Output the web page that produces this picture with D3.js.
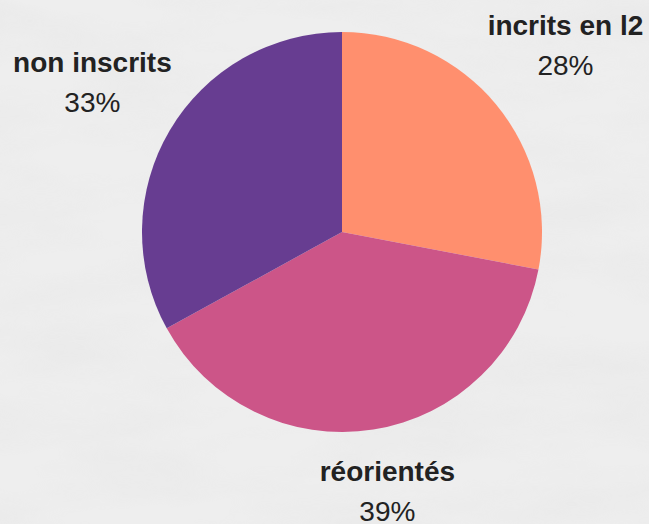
<!DOCTYPE html>
<html>
<head>
<meta charset="utf-8">
<script src="https://cdn.jsdelivr.net/npm/d3@7"></script>
<style>
  body { margin: 0; background: #eeeeee; }
  svg { display: block; }
</style>
</head>
<body>
<script>
var categories = ["incrits en l2", "réorientés", "non inscrits"];
var values = [28, 39, 33];
var colors = ["#ff8f6e", "#cc5588", "#673d91"];

var w = 649;
var h = 524;
var cx = 342;
var cy = 232;
var radius = 200;
var labelRadius = 290;

var svg = d3.select("body")
            .append("svg")
            .attr("width", w)
            .attr("height", h);

// faint marble texture for the background
var defs = svg.append("defs");
var f = defs.append("filter").attr("id", "marble")
  .attr("x", 0).attr("y", 0).attr("width", "100%").attr("height", "100%");
f.append("feTurbulence")
  .attr("type", "fractalNoise")
  .attr("baseFrequency", "0.006 0.02")
  .attr("numOctaves", 4)
  .attr("seed", 7);
f.append("feColorMatrix")
  .attr("type", "matrix")
  .attr("values", "0 0 0 0 0.75  0 0 0 0 0.75  0 0 0 0 0.75  0 0 0 -1.6 1.05");

svg.append("rect")
  .attr("width", w).attr("height", h)
  .attr("fill", "#eeeeee");
svg.append("rect")
  .attr("width", w).attr("height", h)
  .attr("filter", "url(#marble)")
  .attr("opacity", 0.35);

var data = categories.map(function(c, i) {
  return {name: c, value: values[i]};
});

var pie = d3.pie()
  .value(function(d) { return d.value; })
  .sort(null);

var arc = d3.arc().innerRadius(0).outerRadius(radius);
var labelArc = d3.arc().innerRadius(labelRadius).outerRadius(labelRadius);

var color = d3.scaleOrdinal().domain(categories).range(colors);

var g = svg.append("g")
  .attr("transform", "translate(" + cx + "," + cy + ")");

var arcs = pie(data);

g.selectAll("path")
  .data(arcs)
  .enter()
  .append("path")
  .attr("d", arc)
  .attr("fill", function(d) { return color(d.data.name); });

var total = d3.sum(values);
var fontSize = 28;

var labels = svg.selectAll(".label")
  .data(arcs)
  .enter()
  .append("g")
  .attr("class", "label")
  .attr("transform", function(d) {
    var p = labelArc.centroid(d);
    var x = cx + p[0];
    var y = cy + p[1];
    // keep the block inside the picture
    x = Math.max(89, Math.min(w - 83, x));
    y = Math.max(47, Math.min(h - 31, y));
    return "translate(" + x + "," + y + ")";
  });

labels.append("text")
  .attr("y", -12)
  .attr("text-anchor", "middle")
  .style("font-family", "'Liberation Sans', Arial, sans-serif")
  .style("font-weight", "bold")
  .style("font-size", fontSize + "px")
  .attr("fill", "#222222")
  .text(function(d) { return d.data.name; });

labels.append("text")
  .attr("y", 28)
  .attr("text-anchor", "middle")
  .style("font-family", "'Liberation Sans', Arial, sans-serif")
  .style("font-size", fontSize + "px")
  .attr("fill", "#222222")
  .text(function(d) { return Math.round(d.value / total * 100) + "%"; });
</script>
</body>
</html>
